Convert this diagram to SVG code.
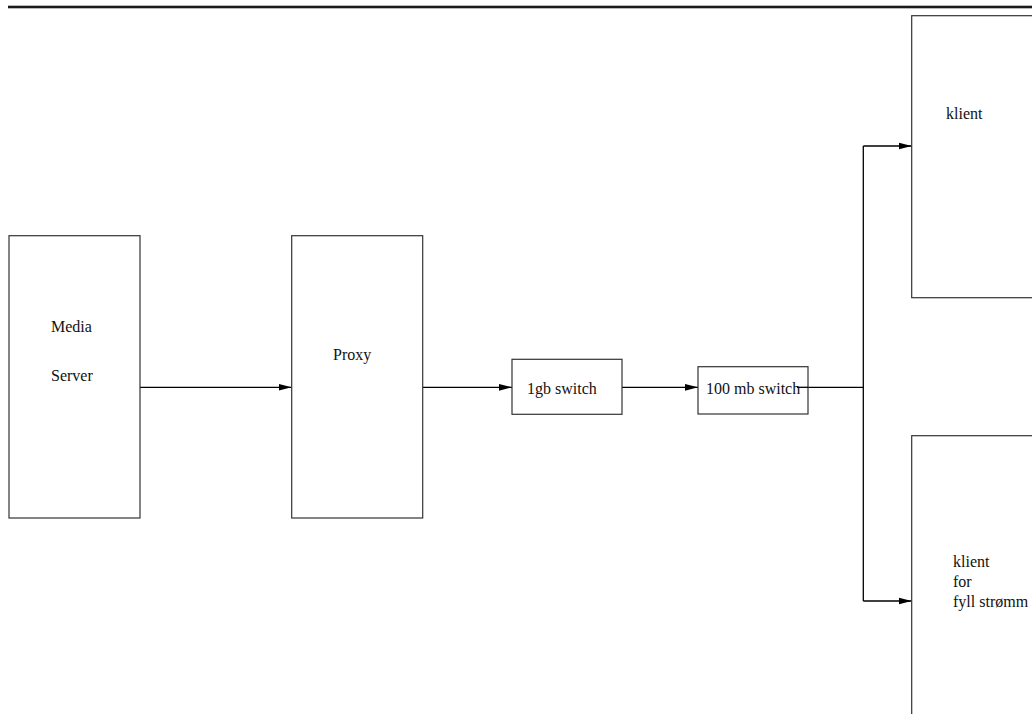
<svg xmlns="http://www.w3.org/2000/svg" width="1032" height="714" viewBox="0 0 1032 714">
<style>
.box{fill:#fff;stroke:#333;stroke-width:1.2}
.lbl{font-family:"Liberation Serif","Times New Roman",serif;font-size:16px;fill:#111}
.con{fill:none;stroke:#000;stroke-width:1.3}
</style>
<defs>
<marker id="arr" markerWidth="14" markerHeight="8" refX="13" refY="4" orient="auto" markerUnits="userSpaceOnUse">
<path d="M0,0.6 L13,4 L0,7.4 Z" fill="#000"/>
</marker>
</defs>
<rect x="8" y="5.7" width="1024" height="2.6" fill="#1a1a1a"/>
<g id="connectors">
<line class="con" x1="140" y1="387.3" x2="291.5" y2="387.3" marker-end="url(#arr)"/>
<line class="con" x1="422.7" y1="387.3" x2="512" y2="387.3" marker-end="url(#arr)"/>
<line class="con" x1="622" y1="387.3" x2="698" y2="387.3" marker-end="url(#arr)"/>
<polyline class="con" points="797,387.3 863.3,387.3"/>
<polyline class="con" points="863.3,601 863.3,146"/>
<line class="con" x1="863.3" y1="146" x2="911.7" y2="146" marker-end="url(#arr)"/>
<line class="con" x1="863.3" y1="601" x2="911.7" y2="601" marker-end="url(#arr)"/>
</g>
<g id="media-server">
<rect class="box" x="9" y="235.7" width="131" height="282.3"/>
<text class="lbl" x="51" y="332">Media</text>
<text class="lbl" x="51" y="381">Server</text>
</g>
<g id="proxy">
<rect class="box" x="291.7" y="235.7" width="131" height="282.3"/>
<text class="lbl" x="333" y="360">Proxy</text>
</g>
<g id="switch-1gb">
<rect class="box" x="512" y="359.3" width="110" height="55"/>
<text class="lbl" x="527" y="394">1gb switch</text>
</g>
<g id="switch-100mb">
<rect class="box" x="698" y="366.7" width="110" height="47.3"/>
<text class="lbl" x="706" y="394">100 mb switch</text>
</g>
<line class="con" x1="797" y1="387.3" x2="808" y2="387.3"/>
<g id="klient1">
<rect class="box" x="911.7" y="15.7" width="130" height="282"/>
<text class="lbl" x="946" y="119">klient</text>
</g>
<g id="klient2">
<rect class="box" x="911.7" y="435.7" width="130" height="300"/>
<text class="lbl" x="953" y="567">klient</text>
<text class="lbl" x="953" y="587">for</text>
<text class="lbl" x="953" y="607">fyll strømm</text>
</g>
</svg>
